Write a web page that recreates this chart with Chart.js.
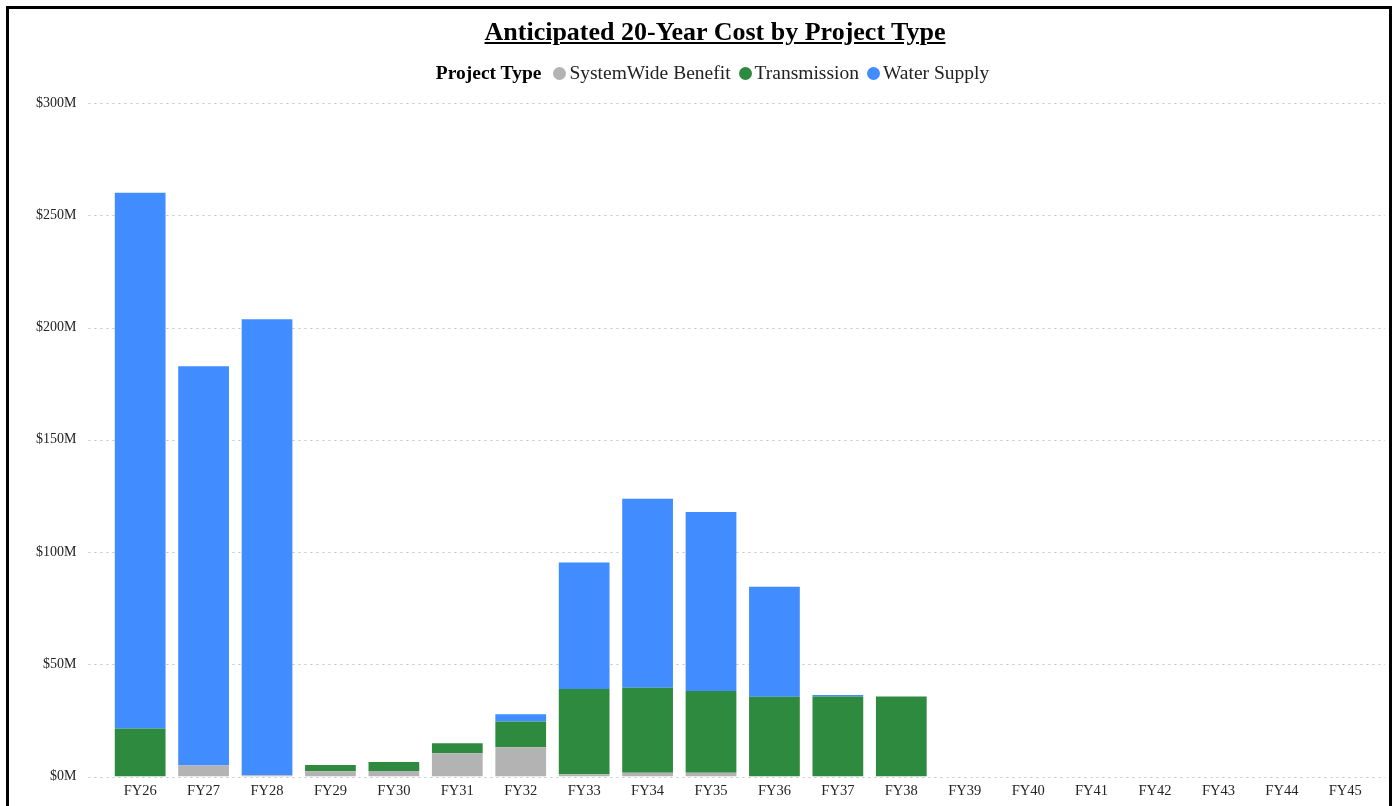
<!DOCTYPE html>
<html>
<head>
<meta charset="utf-8">
<script src="https://cdn.jsdelivr.net/npm/chart.js@4"></script>
<style>
    html, body { margin: 0; padding: 0; background: #fff; }
    #wrap { position: relative; width: 1392px; height: 806px; overflow: hidden; font-family: 'Liberation Serif', 'Times New Roman', serif; }
    #frame { position: absolute; left: 6px; top: 6px; width: 1380px; height: 820px; border: 3px solid #000; pointer-events: none; }
    #title { position: absolute; left: 0; top: 17px; width: 1392px; padding-left: 38px; box-sizing: border-box; text-align: center; font-size: 26px; font-weight: bold; text-decoration: underline; color: #000; }
    #legend { position: absolute; left: 0; top: 62px; width: 1392px; padding-left: 41px; box-sizing: border-box; display: flex; justify-content: center; align-items: center; font-size: 19.5px; color: #222; }
    #legend .head { font-weight: bold; color: #000; margin-right: 12px; }
    #legend .item { display: flex; align-items: center; margin-right: 8px; }
    #legend .dot { width: 13px; height: 13px; border-radius: 50%; margin-right: 3px; }
    canvas { position: absolute; left: 0; top: 0; }
</style>
</head>
<body>
<div id="wrap">
    <canvas id="costChart" width="1392" height="817"></canvas>
    <div id="title">Anticipated 20-Year Cost by Project Type</div>
    <div id="legend"></div>
    <div id="frame"></div>
</div>
<script>
const categories = ['FY26', 'FY27', 'FY28', 'FY29', 'FY30', 'FY31', 'FY32', 'FY33', 'FY34', 'FY35',
    'FY36', 'FY37', 'FY38', 'FY39', 'FY40', 'FY41', 'FY42', 'FY43', 'FY44', 'FY45'];

// valores en millones de dólares
const systemWideBenefit = [0, 4.9, 0.6, 2.4, 2.5, 10.4, 13.1, 1.0, 1.7, 1.7, 0, 0, 0, 0, 0, 0, 0, 0, 0, 0];
const transmission = [21.4, 0, 0, 2.8, 4.0, 4.5, 11.4, 38.0, 37.9, 36.4, 35.6, 35.7, 35.7, 0, 0, 0, 0, 0, 0, 0];
const waterSupply = [238.6, 177.9, 203.1, 0, 0, 0, 3.3, 56.4, 84.1, 79.8, 48.9, 0.6, 0, 0, 0, 0, 0, 0, 0, 0];

const yTicks = [0, 50, 100, 150, 200, 250, 300];

const series = [
    { label: 'SystemWide Benefit', data: systemWideBenefit, color: '#B3B3B3' },
    { label: 'Transmission', data: transmission, color: '#2E8A3E' },
    { label: 'Water Supply', data: waterSupply, color: '#418CFF' }
];

// leyenda en HTML (encabezado en negrita + puntos)
const legendEl = document.getElementById('legend');
legendEl.innerHTML = '<span class="head">Project Type</span>' + series.map(s =>
    `<span class="item"><span class="dot" style="background:${s.color}"></span>${s.label}</span>`).join('');

// líneas punteadas de la cuadrícula, un poco más anchas que el área de barras
const dottedGrid = {
    id: 'dottedGrid',
    beforeDatasetsDraw(chart) {
        const { ctx, chartArea, scales } = chart;
        ctx.save();
        ctx.strokeStyle = '#c4c4c4';
        ctx.lineWidth = 1;
        ctx.setLineDash([2, 4]);
        scales.y.ticks.forEach(t => {
            const y = Math.round(scales.y.getPixelForValue(t.value)) + 0.5;
            ctx.beginPath();
            ctx.moveTo(chartArea.left - 20, y);
            ctx.lineTo(chartArea.right + 8, y);
            ctx.stroke();
        });
        ctx.restore();
    }
};

const ctx = document.getElementById('costChart');
new Chart(ctx, {
    type: 'bar',
    data: {
        labels: categories,
        datasets: series.map(s => ({
            label: s.label,
            data: s.data,
            backgroundColor: s.color,
            borderWidth: 0,
            barPercentage: 0.8,
            categoryPercentage: 1
        }))
    },
    options: {
        responsive: false,
        animation: false,
        layout: {
            padding: { top: 103, left: 4, right: 15, bottom: 8 }
        },
        plugins: {
            legend: { display: false },
            tooltip: { enabled: false }
        },
        scales: {
            x: {
                stacked: true,
                grid: { display: false, drawTicks: false },
                border: { display: false },
                ticks: {
                    color: '#252423',
                    padding: 6,
                    maxRotation: 0,
                    autoSkip: false,
                    font: { family: 'Liberation Serif', size: 14.5 }
                }
            },
            y: {
                stacked: true,
                min: 0,
                max: 300,
                afterBuildTicks: (scale) => { scale.ticks = yTicks.map(v => ({ value: v })); },
                grid: { display: false, drawTicks: false },
                border: { display: false },
                ticks: {
                    color: '#252423',
                    padding: 32,
                    font: { family: 'Liberation Serif', size: 14 },
                    callback: (value) => '$' + value + 'M'
                }
            }
        }
    },
    plugins: [dottedGrid]
});
</script>
</body>
</html>
